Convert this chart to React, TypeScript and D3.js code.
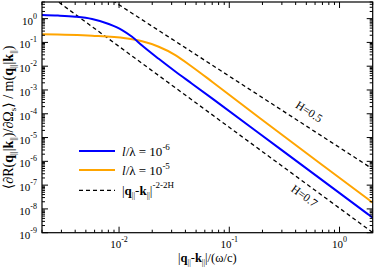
import React from 'react';
import * as d3 from 'd3';

// l/lambda = 1e-6 (blue) and 1e-5 (orange)
const blueX = [0.002, 0.00279, 0.00401, 0.00569, 0.00807, 0.01065, 0.01312, 0.01618, 0.0229, 0.0324, 0.0459, 0.0698, 0.289, 1.77, 2];
const blueY = [1.42, 1.34, 1.2, 0.96, 0.593, 0.332, 0.173, 0.074, 0.0204, 0.00596, 0.00184, 4.42e-4, 3.33e-6, 6.5e-9, 4.27e-9];
const orangeX = [0.002, 0.00569, 0.0114, 0.01618, 0.0229, 0.0324, 0.0459, 0.0698, 0.19, 1.77, 2];
const orangeY = [0.219, 0.191, 0.149, 0.111, 0.0659, 0.0295, 0.00951, 0.00223, 6.45e-5, 2.79e-8, 1.82e-8];

// reference power laws |q-k|^(-2-2H)
const hurst = [0.5, 0.7];
const powerPrefactor = [10 ** -5.42, 10 ** -7.97];
const powerLabels = ['H=0.5', 'H=0.7'];

const xMajor = [0.01, 0.1, 1];
const yMajorExp = [0, -1, -2, -3, -4, -5, -6, -7, -8, -9];
const legendExps = ['-6', '-5'];

const W = 374, H = 267;
const margin = { top: 2, left: 42, right: 1.3, bottom: 34.3 };
const serif = '"Liberation Serif", "DejaVu Serif", serif';

export default function App() {
  const iw = W - margin.left - margin.right;
  const ih = H - margin.top - margin.bottom;
  const x = d3.scaleLog().domain([0.002, 2]).range([0, iw]);
  const y = d3.scaleLog().domain([1e-9, 5]).range([ih, 0]);

  const line = d3.line<[number, number]>()
    .x(d => x(d[0]))
    .y(d => y(d[1]))
    .curve(d3.curveMonotoneX);

  const blue = line(blueX.map((v, i) => [v, blueY[i]]));
  const orange = line(orangeX.map((v, i) => [v, orangeY[i]]));
  const powerLines = hurst.map((h, i) => {
    const xs = [0.002, 2];
    return line(xs.map(v => [v, powerPrefactor[i] * Math.pow(v, -2 - 2 * h)]));
  });

  const xMinor: number[] = [];
  for (const dec of [0.001, 0.01, 0.1, 1]) {
    for (let k = 2; k <= 9; k++) {
      const v = dec * k;
      if (v >= 0.002 && v <= 2 && !xMajor.includes(v)) xMinor.push(v);
    }
  }
  const yMinor: number[] = [];
  for (let e = -9; e <= 0; e++) {
    for (let k = 2; k <= 9; k++) {
      const v = k * 10 ** e;
      if (v <= 5) yMinor.push(v);
    }
  }

  const legendY = [151, 170, 190.3];

  return (
    <svg width={W} height={H} style={{ position: 'absolute', left: 0, top: 0, background: '#fff' }}
      fontFamily={serif}>
      <defs>
        <clipPath id="plotClip">
          <rect x={0} y={0} width={iw} height={ih} />
        </clipPath>
      </defs>
      <g transform={`translate(${margin.left},${margin.top})`}>
        <g clipPath="url(#plotClip)">
          {powerLines.map((d, i) => (
            <path key={i} d={d ?? ''} fill="none" stroke="#000" strokeWidth={1.3} strokeDasharray="4,3" />
          ))}
          <path d={orange ?? ''} fill="none" stroke="#ffa500" strokeWidth={2} />
          <path d={blue ?? ''} fill="none" stroke="#0000ff" strokeWidth={2} />
        </g>

        {/* ticks on all four sides, pointing in */}
        {xMajor.map(v => (
          <g key={'xM' + v}>
            <line x1={x(v)} x2={x(v)} y1={ih} y2={ih - 6} stroke="#000" />
            <line x1={x(v)} x2={x(v)} y1={0} y2={6} stroke="#000" />
          </g>
        ))}
        {xMinor.map(v => (
          <g key={'xm' + v}>
            <line x1={x(v)} x2={x(v)} y1={ih} y2={ih - 3} stroke="#000" />
            <line x1={x(v)} x2={x(v)} y1={0} y2={3} stroke="#000" />
          </g>
        ))}
        {yMajorExp.map(e => (
          <g key={'yM' + e}>
            <line x1={0} x2={6} y1={y(10 ** e)} y2={y(10 ** e)} stroke="#000" />
            <line x1={iw} x2={iw - 6} y1={y(10 ** e)} y2={y(10 ** e)} stroke="#000" />
          </g>
        ))}
        {yMinor.map(v => (
          <g key={'ym' + v}>
            <line x1={0} x2={3} y1={y(v)} y2={y(v)} stroke="#000" />
            <line x1={iw} x2={iw - 3} y1={y(v)} y2={y(v)} stroke="#000" />
          </g>
        ))}
        <rect x={0} y={0} width={iw} height={ih} fill="none" stroke="#000" strokeWidth={1.2} />

        {/* tick labels */}
        {xMajor.map(v => (
          <text key={'xl' + v} x={x(v)} y={ih + 15} textAnchor="middle" fontSize={11}>
            10<tspan fontSize={8} dy={-6}>{Math.round(Math.log10(v))}</tspan>
          </text>
        ))}
        {yMajorExp.map(e => (
          <text key={'yl' + e} x={-5} y={y(10 ** e) + 6} textAnchor="end" fontSize={11}>
            10<tspan fontSize={8} dy={-6}>{e}</tspan>
          </text>
        ))}
      </g>

      {/* power-law labels */}
      <text transform="translate(307,115) rotate(33)" textAnchor="middle" fontSize={11.5}>{powerLabels[0]}</text>
      <text transform="translate(302,199) rotate(36)" textAnchor="middle" fontSize={11.5}>{powerLabels[1]}</text>

      {/* legend */}
      <line x1={79} x2={115} y1={legendY[0]} y2={legendY[0]} stroke="#0000ff" strokeWidth={2} />
      <line x1={79} x2={115} y1={legendY[1]} y2={legendY[1]} stroke="#ffa500" strokeWidth={2} />
      <line x1={79} x2={115} y1={legendY[2]} y2={legendY[2]} stroke="#000" strokeWidth={1.3} strokeDasharray="4,3" />
      {legendExps.map((ex, i) => (
        <text key={ex} x={122} y={legendY[i] + 4.5} fontSize={13}>
          <tspan fontStyle="italic">l</tspan>/λ = 10<tspan fontSize={9} dy={-6}>{ex}</tspan>
        </text>
      ))}
      <text x={122} y={legendY[2] + 5} fontSize={13}>
        |<tspan fontWeight="bold">q</tspan><tspan fontSize={8} dy={3}>||</tspan><tspan dy={-3}>-</tspan><tspan fontWeight="bold">k</tspan><tspan fontSize={8} dy={3}>||</tspan><tspan dy={-3}>|</tspan><tspan fontSize={9} dy={-7}>-2-2H</tspan>
      </text>

      {/* axis titles */}
      <text x={margin.left + iw / 2} y={262} textAnchor="middle" fontSize={12.5}>
        |<tspan fontWeight="bold">q</tspan><tspan fontSize={8} dy={3}>||</tspan><tspan dy={-3}>-</tspan><tspan fontWeight="bold">k</tspan><tspan fontSize={8} dy={3}>||</tspan><tspan dy={-3}>|/(ω/c)</tspan>
      </text>
      <text transform={`translate(12.5,${margin.top + ih / 2}) rotate(-90)`} textAnchor="middle" fontSize={14}>
        ⟨∂R(<tspan fontWeight="bold">q</tspan><tspan fontSize={9} dy={3}>||</tspan><tspan dy={-3}>|</tspan><tspan fontWeight="bold">k</tspan><tspan fontSize={9} dy={3}>||</tspan><tspan dy={-3}>)/∂Ω</tspan><tspan fontSize={9} dy={3}>s</tspan><tspan dy={-3}>⟩ / m(</tspan><tspan fontWeight="bold">q</tspan><tspan fontSize={9} dy={3}>||</tspan><tspan dy={-3}>|</tspan><tspan fontWeight="bold">k</tspan><tspan fontSize={9} dy={3}>||</tspan><tspan dy={-3}>)</tspan>
      </text>
    </svg>
  );
}
